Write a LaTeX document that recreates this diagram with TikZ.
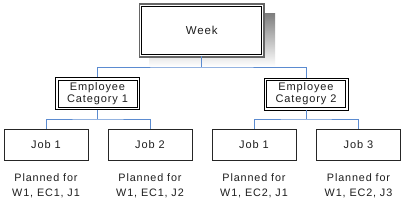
\documentclass[tikz,border=0pt]{standalone}
\usepackage{fontspec}
\setmainfont{Liberation Sans}[LetterSpace=8]
\definecolor{conn}{HTML}{5B8BD0}
\definecolor{shade}{HTML}{CDCDCD}
\definecolor{txt}{HTML}{1E1E1E}
\begin{document}
\begin{tikzpicture}[x=1pt,y=-1pt,
  connector/.style={draw=conn,line width=0.9pt},
  weekbox/.style={draw=black,line width=0.8pt,fill=white,minimum width=120pt,minimum height=48pt,inner sep=0pt,text=txt,font=\fontsize{11.5}{13}\selectfont},
  catbox/.style={draw=black,line width=0.7pt,fill=white,minimum width=79pt,minimum height=27pt,inner sep=0pt,align=center,text=txt,font=\fontsize{11}{12}\selectfont},
  catframe/.style={draw=black,line width=0.7pt},
  jobbox/.style={draw=black!85,line width=0.7pt,minimum width=84pt,minimum height=31pt,inner sep=0pt,text=txt,font=\fontsize{11}{13}\selectfont},
  plan/.style={align=center,text=txt,inner sep=0pt,font=\fontsize{10.8}{14.5}\selectfont}]
\useasboundingbox[fill=white] (0,0) rectangle (404,200);
% shadow and outer frame of Week
\fill[shade] (149,14) rectangle (275,66.5);
\draw[black!60,line width=1.2pt,fill=white] (139.5,4) rectangle (264,57);
\node[weekbox] (week) at (201.75,30.5) {Week};
\node[catbox] (ec1) at (97.5,93.5) {Employee\\Category 1};
\node[catbox] (ec2) at (306,94) {Employee\\Category 2};
\draw[catframe] ([shift={(-2.2,-2.2)}]ec1.north west) rectangle ([shift={(2.2,2.2)}]ec1.south east);
\draw[catframe] ([shift={(-2.2,-2.2)}]ec2.north west) rectangle ([shift={(2.2,2.2)}]ec2.south east);
\node[jobbox] (j1) at (46,144.5) {Job 1};
\node[jobbox] (j2) at (150,144.5) {Job 2};
\node[jobbox] (j3) at (254,144.5) {Job 1};
\node[jobbox] (j4) at (358.5,144.5) {Job 3};
\node[plan] (p1) at (46,186) {Planned for\\W1, EC1, J1};
\node[plan] (p2) at (150,186) {Planned for\\W1, EC1, J2};
\node[plan] (p3) at (254,186) {Planned for\\W1, EC2, J1};
\node[plan] (p4) at (358.5,186) {Planned for\\W1, EC2, J3};
\coordinate (b0) at (201.75,67);
\coordinate (b1) at (97.5,119);
\coordinate (b2) at (306,119);
\draw[connector] ([yshift=-1.6pt]week.south) -- (b0);
\draw[connector] ([yshift=2.6pt]ec1.north) |- (b0) -| ([yshift=2.6pt]ec2.north);
\draw[connector] ([yshift=-2.6pt]ec1.south) -- (b1);
\draw[connector] (j1.north) |- (b1) -| (j2.north);
\draw[connector] ([yshift=-2.6pt]ec2.south) -- (b2);
\draw[connector] (j3.north) |- (b2) -| (j4.north);
\end{tikzpicture}
\end{document}
